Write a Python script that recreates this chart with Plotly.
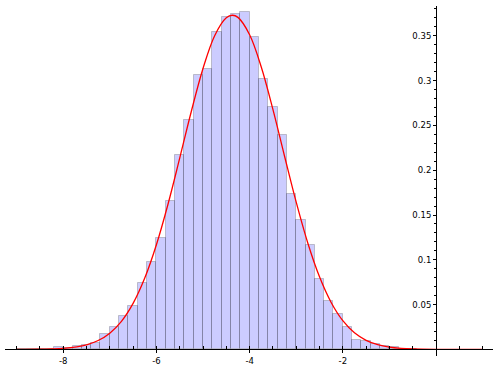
import plotly.graph_objects as go

# Histogram bins: left edges (bin width 0.2) and normalized heights
bin_left = [-9.0, -8.8, -8.6, -8.4, -8.2, -8.0, -7.8, -7.6, -7.4, -7.2,
            -7.0, -6.8, -6.6, -6.4, -6.2, -6.0, -5.8, -5.6, -5.4, -5.2,
            -5.0, -4.8, -4.6, -4.4, -4.2, -4.0, -3.8, -3.6, -3.4, -3.2,
            -3.0, -2.8, -2.6, -2.4, -2.2, -2.0, -1.8, -1.6, -1.4, -1.2,
            -1.0, -0.8, -0.6]
bin_height = [0.0, 0.0005, 0.001, 0.0005, 0.0025, 0.002, 0.004, 0.005, 0.007, 0.017,
              0.025, 0.037, 0.048, 0.074, 0.098, 0.124, 0.166, 0.217, 0.256, 0.306,
              0.313, 0.354, 0.371, 0.374, 0.376, 0.349, 0.302, 0.270, 0.239, 0.173,
              0.145, 0.117, 0.079, 0.054, 0.040, 0.0255, 0.011, 0.0095, 0.0065, 0.004,
              0.0025, 0.001, 0.0005]

# Fitted density curve
curve_x = [-9.0, -8.5, -8.25, -8.0, -7.5, -7.25, -7.0, -6.75, -6.5, -6.25,
           -6.0, -5.75, -5.5, -5.25, -5.0, -4.75, -4.5, -4.37, -4.25, -4.0,
           -3.75, -3.5, -3.25, -3.0, -2.75, -2.5, -2.25, -2.0, -1.75, -1.5,
           -1.25, -1.0, -0.75, -0.5, 0.0, 0.5, 1.0]
curve_y = [0.00003, 0.00022, 0.00052, 0.00118, 0.00517, 0.00996, 0.0182, 0.0314, 0.0514, 0.0796,
           0.1168, 0.1623, 0.2135, 0.2658, 0.3135, 0.3501, 0.3701, 0.3729, 0.3705, 0.3512,
           0.3152, 0.2679, 0.2156, 0.1643, 0.1185, 0.0810, 0.0524, 0.0321, 0.0186, 0.0102,
           0.00531, 0.00261, 0.00122, 0.00054, 0.00009, 0.00001, 0.0]

x_ticks = [-8, -6, -4, -2]
x_labels = ["-8", "-6", "-4", "-2"]
y_ticks = [0.05, 0.1, 0.15, 0.2, 0.25, 0.3, 0.35]
y_labels = ["0.05", "0.1", "0.15", "0.2", "0.25", "0.3", "0.35"]

x_range = [-9.249, 1.223]
y_range = [-0.0073, 0.3832]

fig = go.Figure()

fig.add_trace(go.Bar(
    x=bin_left,
    y=bin_height,
    width=0.2,
    offset=0,
    marker=dict(color='rgba(0,0,255,0.2)',
                line=dict(color='rgba(0,0,0,0.2)', width=1)),
    showlegend=False
))

fig.add_trace(go.Scatter(
    x=curve_x,
    y=curve_y,
    mode='lines',
    line=dict(color='red', width=1.3, shape='spline'),
    showlegend=False
))

# axes cross at the origin, like the original
x_pos = (0 - y_range[0]) / (y_range[1] - y_range[0])
y_pos = (0 - x_range[0]) / (x_range[1] - x_range[0])

fig.update_layout(
    width=499,
    height=371,
    margin=dict(l=5, r=6, t=6, b=12),
    paper_bgcolor='white',
    plot_bgcolor='white',
    bargap=0,
    font=dict(family='DejaVu Sans', size=8.5, color='black'),
    xaxis=dict(
        range=x_range,
        anchor='free',
        position=x_pos,
        showgrid=False,
        zeroline=False,
        showline=True,
        linecolor='black',
        linewidth=1,
        tickmode='array',
        tickvals=x_ticks,
        ticktext=x_labels,
        ticks='outside',
        ticklen=3,
        tickcolor='black',
        minor=dict(dtick=0.5, tick0=0, ticks='inside', ticklen=3, tickcolor='black'),
    ),
    yaxis=dict(
        range=y_range,
        anchor='free',
        position=y_pos,
        showgrid=False,
        zeroline=False,
        showline=True,
        linecolor='black',
        linewidth=1,
        tickmode='array',
        tickvals=y_ticks,
        ticktext=y_labels,
        ticks='outside',
        ticklen=3,
        tickcolor='black',
        minor=dict(dtick=0.01, tick0=0, ticks='outside', ticklen=2, tickcolor='black'),
    ),
)

# drop the browser's default page margin so the figure sits at the corner
fig.write_html("out.html", config={'displayModeBar': False},
               post_script="document.body.style.margin='0';")
